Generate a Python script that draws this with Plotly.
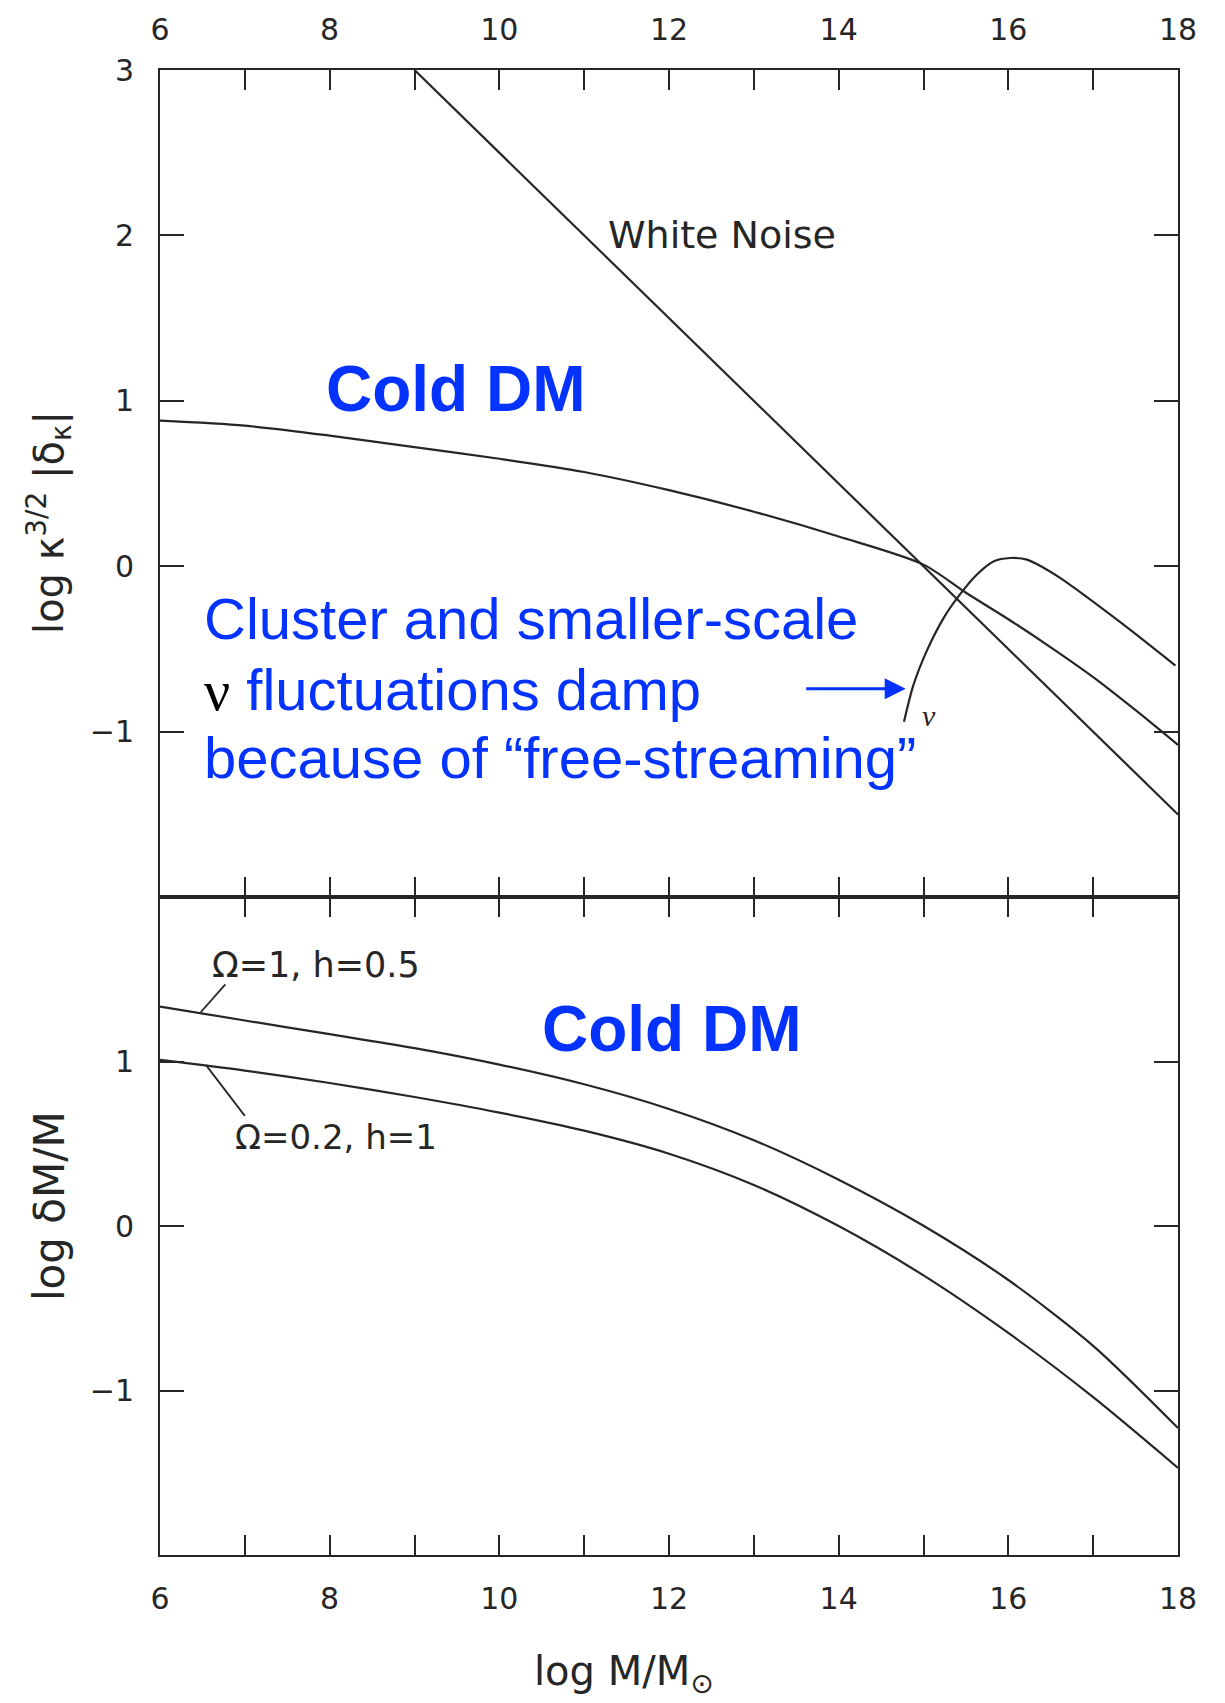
import plotly.graph_objects as go

# ---------------- data ----------------
# top panel: log k^{3/2}|delta_k| vs log M/Msun
wn_x = [9.0, 18.0]
wn_y = [3.0, -1.5]

cdm_top_x = [6, 7, 8, 9, 10, 11, 12, 13, 14, 15, 15.5, 16, 16.5, 17, 17.5, 18]
cdm_top_y = [0.88, 0.85, 0.79, 0.72, 0.65, 0.57, 0.46, 0.33, 0.18, 0.01,
             -0.16, -0.32, -0.49, -0.67, -0.87, -1.08]

nu_x = [14.77, 14.88, 15.04, 15.24, 15.43, 15.63, 15.83, 16.02, 16.22, 16.42, 16.61, 17.3, 17.97]
nu_y = [-0.94, -0.72, -0.51, -0.31, -0.17, -0.05, 0.03, 0.05, 0.04, -0.01, -0.07, -0.33, -0.60]

# bottom panel: log dM/M
bot_x = [6, 7, 8, 9, 10, 11, 12, 13, 14, 15, 16, 17, 18]
om1_y = [1.335, 1.25, 1.167, 1.082, 0.982, 0.862, 0.712, 0.522, 0.282, 0.002, -0.328, -0.728, -1.228]
om02_y = [1.01, 0.945, 0.87, 0.785, 0.69, 0.58, 0.44, 0.25, 0.0, -0.30, -0.65, -1.04, -1.47]

major_x = [6, 8, 10, 12, 14, 16, 18]
minor_x = [7, 9, 11, 13, 15, 17]
top_yticks = [-1, 0, 1, 2, 3]
bot_yticks = [-1, 0, 1]

INK = "#262626"
BLUE = "#0433FF"
FONT = "DejaVu Sans"

fig = go.Figure()

def curve(x, y, xa, ya, smooth=True):
    ln = dict(color=INK, width=2.2)
    if smooth:
        ln.update(shape="spline", smoothing=0.8)
    return go.Scatter(x=x, y=y, mode="lines", line=ln, xaxis=xa, yaxis=ya,
                      showlegend=False, hoverinfo="skip")

fig.add_trace(curve(wn_x, wn_y, "x", "y", smooth=False))
fig.add_trace(curve(cdm_top_x, cdm_top_y, "x", "y"))
fig.add_trace(curve(nu_x, nu_y, "x", "y"))
fig.add_trace(curve(bot_x, om1_y, "x2", "y2"))
fig.add_trace(curve(bot_x, om02_y, "x2", "y2"))

tickfont = dict(family=FONT, size=30, color=INK)
axis_common = dict(showgrid=False, zeroline=False, showline=True, linecolor=INK,
                   linewidth=2, ticks="inside", tickcolor=INK, tickwidth=2,
                   tickfont=tickfont, mirror="ticks")
minor_x_ticks = dict(tickmode="array", tickvals=minor_x, ticks="inside", ticklen=20,
                     tickwidth=2, tickcolor=INK, showgrid=False)

fig.update_layout(
    width=1225, height=1703,
    margin=dict(l=160, r=47, t=67, b=148),
    paper_bgcolor="white", plot_bgcolor="white",
    xaxis=dict(axis_common, range=[6, 18], side="top", anchor="y",
               tickvals=major_x, ticklen=20, ticklabelstandoff=16,
               minor=minor_x_ticks),
    yaxis=dict(axis_common, range=[-2, 3], domain=[0.443, 1.0], anchor="x",
               tickvals=top_yticks, ticklen=24, ticklabelstandoff=18),
    xaxis2=dict(axis_common, range=[6, 18], side="bottom", anchor="y2",
                tickvals=major_x, ticklen=20, ticklabelstandoff=16,
                minor=minor_x_ticks),
    yaxis2=dict(axis_common, range=[-2, 2], domain=[0.0, 0.443], anchor="x2",
                tickvals=bot_yticks, ticklen=24, ticklabelstandoff=18),
)

ann = []
# curve labels (scanned figure)
ann.append(dict(x=12.63, y=2.0, xref="x", yref="y", text="White Noise", showarrow=False,
                font=dict(family=FONT, size=38, color=INK)))
ann.append(dict(x=15.06, y=-0.9, xref="x", yref="y", text="<i>ν</i>", showarrow=False,
                font=dict(family="Liberation Serif", size=30, color=INK)))
ann.append(dict(x=7.84, y=1.59, xref="x2", yref="y2", text="Ω=1, h=0.5", showarrow=False,
                font=dict(family=FONT, size=35, color=INK)))
ann.append(dict(x=8.07, y=0.54, xref="x2", yref="y2", text="Ω=0.2, h=1", showarrow=False,
                font=dict(family=FONT, size=34, color=INK)))

# blue overlay text
ann.append(dict(x=9.49, y=1.07, xref="x", yref="y", text="<b>Cold DM</b>", showarrow=False,
                font=dict(family="Liberation Sans", size=64, color=BLUE)))
ann.append(dict(x=12.04, y=1.2, xref="x2", yref="y2", text="<b>Cold DM</b>", showarrow=False,
                font=dict(family="Liberation Sans", size=64, color=BLUE)))
para_font = dict(family="Liberation Sans", size=58, color=BLUE)
ann.append(dict(x=6.5, y=-0.315, xref="x", yref="y", xanchor="left", yanchor="middle",
                text="Cluster and smaller-scale", showarrow=False, font=para_font))
ann.append(dict(x=6.5, y=-0.745, xref="x", yref="y", xanchor="left", yanchor="middle",
                text="<span style='color:#000000;font-family:Liberation Serif'>ν</span> fluctuations damp",
                showarrow=False, font=para_font))
ann.append(dict(x=6.5, y=-1.155, xref="x", yref="y", xanchor="left", yanchor="middle",
                text="because of “free-streaming”", showarrow=False, font=para_font))
ann.append(dict(x=14.79, y=-0.74, ax=13.6, ay=-0.74, xref="x", yref="y", axref="x", ayref="y",
                text="", showarrow=True, arrowhead=2, arrowsize=1.4, arrowwidth=3,
                arrowcolor=BLUE))

# axis titles
ann.append(dict(x=-0.109, y=0.695, xref="paper", yref="paper", textangle=-90,
                xanchor="center", yanchor="middle",
                text="log κ<sup>3/2</sup> |δ<sub>κ</sub>|", showarrow=False,
                font=dict(family=FONT, size=40, color=INK)))
ann.append(dict(x=-0.109, y=0.235, xref="paper", yref="paper", textangle=-90,
                xanchor="center", yanchor="middle",
                text="log δM/M", showarrow=False,
                font=dict(family=FONT, size=42, color=INK)))
ann.append(dict(x=0.456, y=-0.08, xref="paper", yref="paper",
                xanchor="center", yanchor="middle",
                text="log M/M<sub>⊙</sub>", showarrow=False,
                font=dict(family=FONT, size=40, color=INK)))

# leader lines from the bottom-panel labels to their curves
shapes = [
    dict(type="line", xref="x2", yref="y2", x0=6.48, y0=1.30, x1=6.77, y1=1.47,
         line=dict(color=INK, width=1.8)),
    dict(type="line", xref="x2", yref="y2", x0=6.54, y0=0.98, x1=7.0, y1=0.67,
         line=dict(color=INK, width=1.8)),
]

fig.update_layout(annotations=ann, shapes=shapes)
fig.write_html("out.html")
